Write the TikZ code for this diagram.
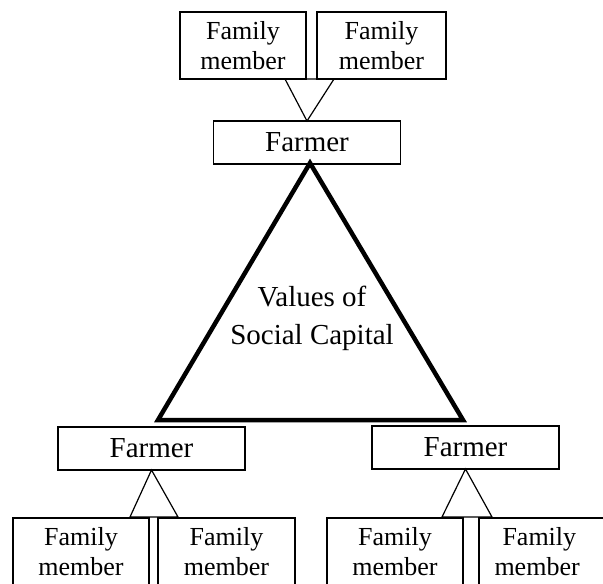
\documentclass[tikz,border=0pt]{standalone}
\usepackage{fontspec}
\setmainfont{Liberation Serif}
\begin{document}
\begin{tikzpicture}[x=1pt,y=-1pt]
\tikzstyle{every node}+=[inner sep=0pt,outer sep=0pt]
\tikzstyle{member}=[draw,line width=1.2pt,minimum width=134pt,minimum height=67pt,align=center,font=\fontsize{26}{30}\selectfont]
\tikzstyle{farmer}=[draw,line width=1.2pt,minimum width=187pt,minimum height=43pt,font=\fontsize{29}{35}\selectfont]
\tikzstyle{link}=[draw,line width=1.2pt,line join=miter]
\useasboundingbox (0,0) rectangle (603,584);
\node [member,minimum width=126pt] (famA) at (243,45.5) {Family\\member};
\node [member,minimum width=129pt] (famB) at (381.5,45.5) {Family\\member};
\node [farmer] (farmT) at (307,142.5) {Farmer};
\node [farmer] (farmL) at (151.5,448.5) {Farmer};
\node [farmer] (farmR) at (465.5,447.5) {Farmer};
\node [member,minimum width=136pt] (famC) at (81,551.5) {Family\\member};
\node [member,minimum width=137pt] (famD) at (226.5,551.5) {Family\\member};
\node [member,minimum width=136pt] (famE) at (395,551.5) {Family\\member};
\node [member,minimum width=150pt,text width=135pt,align=left] (famF) at (554,551.5) {\hspace*{16pt}Family\\\hspace*{8pt}member};
\coordinate (topL) at (285,79);
\coordinate (topR) at (334,79);
\draw [link] (topL) -- (topR) -- (farmT.north) -- cycle;
\coordinate (capT) at (310,163);
\coordinate (capL) at (158,420);
\coordinate (capR) at (463,420);
\draw [line width=4.5pt,line join=miter] (capT) -- (capR) -- (capL) -- cycle;
\node [align=center,font=\fontsize{29}{38}\selectfont] (values) at (312,318) {Values of\\Social Capital};
\coordinate (botLa) at (130,517);
\coordinate (botLb) at (178,517);
\draw [link] (farmL.south) -- (botLb) -- (botLa) -- cycle;
\coordinate (botRa) at (442,517);
\coordinate (botRb) at (492,517);
\draw [link] (farmR.south) -- (botRb) -- (botRa) -- cycle;
\end{tikzpicture}
\end{document}
